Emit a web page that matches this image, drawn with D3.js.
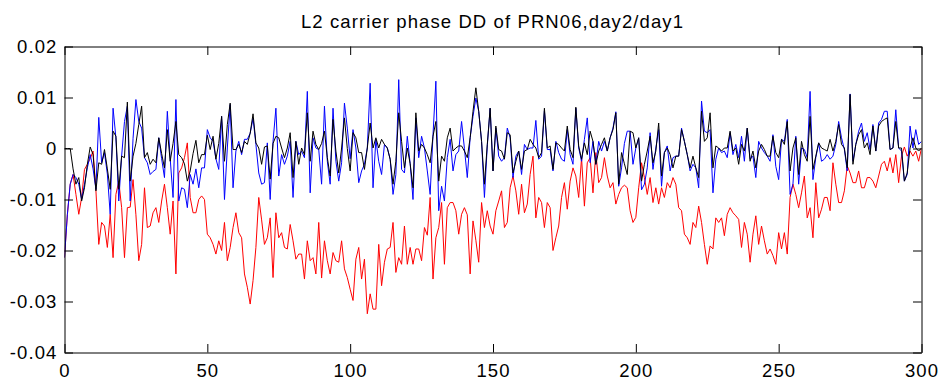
<!DOCTYPE html>
<html><head><meta charset="utf-8">
<script src="https://cdn.jsdelivr.net/npm/d3@7"></script>
<style>html,body{margin:0;padding:0;background:#fff;} svg{display:block}</style>
</head><body>
<svg id="chart" width="945" height="385"></svg>
<script>
const title = "L2 carrier phase DD of PRN06,day2/day1";
const xTicks = [0, 50, 100, 150, 200, 250, 300];
const yTicks = [-0.04, -0.03, -0.02, -0.01, 0, 0.01, 0.02];
const yTickLabels = ["-0.04", "-0.03", "-0.02", "-0.01", "0", "0.01", "0.02"];
const valueUnit = 1e-3; // series values below are in units of 0.001, sample index 0..300

const redSeries = [
-21.4,-13.0,-7.0,-5.1,-9.0,-12.9,-9.6,-4.1,-3.1,-2.0,
-0.5,-8.3,-18.8,-14.5,-15.2,-19.4,-12.9,-21.4,-9.0,-6.4,
-11.6,-21.4,-11.6,-11.5,-6.1,-13.0,-22.0,-18.8,-7.7,-15.5,
-15.2,-12.6,-11.6,-14.5,-10.3,-7.0,-11.6,-16.8,-10.3,-24.6,
-4.8,-3.8,-1.8,1.1,-9.6,-12.6,-12.6,-10.0,-9.3,-10.0,
-16.8,-17.5,-18.8,-20.7,-18.1,-20.0,-14.5,-22.0,-19.4,-15.5,
-12.6,-16.5,-17.5,-24.6,-27.2,-30.5,-25.9,-19.4,-9.6,-14.0,
-18.8,-17.5,-13.6,-25.3,-12.6,-17.5,-16.5,-19.4,-19.7,-14.9,
-18.1,-21.7,-20.7,-20.7,-25.6,-18.1,-22.0,-21.4,-24.6,-14.5,
-25.4,-18.1,-22.0,-24.6,-20.4,-22.0,-22.3,-18.1,-23.6,-25.3,
-27.6,-29.8,-21.7,-19.4,-25.6,-21.7,-32.4,-28.5,-31.5,-31.5,
-18.8,-26.9,-22.3,-19.7,-19.4,-14.5,-24.3,-21.4,-22.7,-15.2,
-22.7,-19.4,-22.7,-19.7,-19.7,-22.0,-15.5,-17.0,-9.6,-25.6,
-17.5,-15.5,-10.6,-22.7,-11.6,-10.6,-10.6,-12.2,-16.8,-12.9,
-11.6,-13.0,-24.6,-14.2,-18.0,-22.3,-10.6,-15.5,-12.2,-15.2,
-16.8,-12.2,-10.3,-8.3,-15.5,-14.5,-7.7,-5.4,-8.3,-12.9,
-7.0,-12.6,-10.9,-5.1,-1.5,-13.6,-9.6,-10.6,-15.5,-10.6,
-11.6,-20.0,-17.5,-15.2,-9.6,-6.7,-11.9,-6.4,-3.8,-5.4,
-9.6,-1.8,-11.3,-2.8,-1.8,-8.7,-0.8,-6.7,-5.7,-1.8,
-5.4,-7.7,-6.7,-10.9,-9.0,-7.7,-7.2,-7.7,-12.2,-14.5,
-13.5,-7.7,-2.8,-5.7,-9.0,-5.7,-10.6,-7.7,-10.9,-7.7,
-9.6,-6.7,-7.7,-5.7,-7.0,-11.6,-12.2,-16.8,-17.5,-18.8,
-14.5,-15.5,-11.3,-14.5,-18.8,-22.7,-19.1,-19.7,-13.6,-14.5,
-13.6,-17.1,-12.9,-11.6,-12.6,-13.2,-13.9,-19.4,-14.5,-16.8,
-22.3,-16.8,-13.2,-18.8,-15.2,-18.1,-20.7,-19.7,-21.0,-22.7,
-16.5,-19.7,-16.5,-20.7,-9.6,-7.0,-9.0,-11.6,-8.7,-5.4,
-13.6,-11.6,-17.5,-6.7,-13.6,-11.9,-9.6,-9.6,-12.2,-2.8,
-7.0,-10.6,-10.6,-8.3,-3.4,-4.8,-6.7,-6.7,-4.4,-7.7,
-7.7,-5.7,-5.7,-6.4,-7.7,-5.4,-3.1,-2.5,-4.4,-1.8,
-4.8,-1.2,-6.7,-1.5,0.3,-1.5,-0.5,-1.5,-0.5,-2.5,0.1
];

const blueSeries = [
-21.4,-13.0,-7.0,-5.1,-5.7,-7.0,-10.0,-7.0,-3.8,-1.2,
-4.0,-8.0,6.1,-2.8,-0.8,-5.0,-12.9,7.9,2.1,-10.3,
-1.5,5.3,8.3,-10.3,2.0,9.6,5.3,4.0,-1.8,-2.8,
-5.1,-4.5,-4.1,2.1,-2.0,-5.7,7.3,-2.0,-9.6,9.6,
-10.3,-7.7,-8.0,-11.6,-5.1,-7.0,-4.0,-7.7,-3.8,-3.8,
3.7,2.1,1.4,-2.0,-4.1,6.3,-10.0,0.1,8.6,-7.7,
-0.5,1.4,-1.2,1.8,1.8,3.0,5.9,0.8,-4.8,-7.0,
-6.7,1.1,-10.0,1.4,7.9,-5.4,-1.2,-3.1,-1.5,1.4,
-9.6,1.4,-1.2,-0.5,-1.8,11.2,-8.7,2.1,0.1,-0.2,
-7.0,8.3,-2.5,-7.0,7.9,-2.5,-6.4,-2.8,8.9,4.0,
-2.0,3.7,0.1,-6.7,-4.4,-3.1,0.1,12.8,-7.7,1.8,
-2.5,-5.1,0.8,0.1,-2.1,-9.0,-5.1,13.5,-4.1,-4.8,
2.4,-3.0,-10.0,6.0,-1.8,2.4,0.1,-4.4,-9.0,2.7,
13.2,-12.2,-7.4,-10.3,-1.8,1.8,-4.4,-1.2,-0.5,5.3,
0.0,-5.7,2.1,6.3,9.9,7.3,1.4,-9.6,0.5,7.9,
-4.4,4.0,-1.5,-2.5,-1.8,4.0,2.1,-5.7,-1.5,-0.5,
-5.1,0.8,-0.2,0.1,0.1,5.5,-2.1,-1.5,7.4,-0.2,
-0.2,-4.4,1.4,-0.8,-2.1,-2.5,3.7,-1.2,-3.1,7.9,
0.1,-2.5,1.8,6.0,-2.8,1.4,-3.1,1.4,-0.5,1.4,
-0.5,2.1,4.0,7.2,-7.4,-3.8,1.0,3.4,3.4,-3.1,
0.1,2.1,-8.1,-7.0,-3.8,3.1,-4.1,0.1,3.7,-7.4,
-0.8,0.5,-4.4,-1.8,-1.5,-1.5,4.0,1.4,-1.2,-4.4,
-3.1,-3.8,-7.7,9.3,3.4,3.1,3.7,-8.7,-2.1,0.1,
-0.8,-0.5,-1.8,3.1,-1.2,0.8,-1.8,2.4,-2.5,4.0,
-2.1,-1.5,-5.7,1.4,0.1,-0.8,-1.5,-2.5,2.7,-3.5,
-6.1,1.8,1.4,5.7,-9.0,-7.0,2.4,-7.0,0.1,-0.2,
-1.8,11.2,-6.1,-1.8,1.1,-2.5,-2.1,-1.2,-2.1,-1.5,
0.8,5.3,2.1,-0.2,-4.4,10.7,-2.5,0.8,3.4,5.0,
1.4,3.1,-0.2,4.7,-0.5,5.0,5.7,7.3,7.3,-0.2,
0.1,7.6,0.1,-0.5,-6.4,-5.1,4.4,0.1,3.7,0.8,1.4
];

const blackSeries = [
0.0,0.0,0.0,-4.0,-7.0,-5.7,-10.3,-7.7,-3.1,0.3,
-1.2,-8.3,-2.8,-3.1,-0.2,-4.0,-8.0,3.4,2.4,-8.0,
-1.5,-1.8,9.1,-6.4,-1.5,1.0,4.7,8.3,-1.8,-0.8,
-3.1,-2.1,-2.8,2.1,-1.0,-3.8,3.7,-2.5,1.0,5.3,
-1.2,-1.8,-3.0,-6.4,-4.4,-1.0,1.6,-2.8,-1.2,-1.2,
2.6,-0.2,2.4,-2.1,1.0,6.3,-2.5,4.7,8.9,-0.2,
-0.2,0.8,-0.8,1.4,0.8,3.0,6.8,1.1,0.1,-3.1,
0.3,0.5,-6.0,1.0,2.4,2.1,0.1,-1.8,0.1,3.1,
-5.7,1.4,-3.1,0.1,-1.2,7.0,-2.5,3.4,0.8,-0.2,
1.0,3.4,-1.8,-5.4,5.7,-0.5,-4.8,0.1,6.0,0.0,
-4.4,3.1,2.1,-0.8,-0.8,-4.1,0.1,5.0,0.1,2.1,
0.1,1.8,0.8,0.1,-2.1,-7.0,-2.5,7.0,1.4,-3.8,
0.1,-3.0,-7.7,7.0,-0.5,0.8,0.1,-1.2,-2.8,2.4,
5.3,-6.4,-1.5,-2.5,2.1,4.0,-0.5,0.1,0.5,0.5,
-0.5,-1.8,2.1,7.3,11.9,7.3,1.4,-7.0,0.8,7.9,
-4.4,4.4,-0.2,-0.5,-2.1,3.1,2.7,-4.8,-2.5,-0.5,
-4.1,-0.5,-0.2,1.8,0.8,0.1,-1.8,-0.8,7.9,0.1,
0.5,-4.1,1.1,0.8,0.1,-0.5,4.4,-0.2,-1.8,8.1,
0.5,-2.1,1.1,-1.2,3.4,1.4,-3.1,-0.5,0.8,2.1,
-0.5,2.1,3.7,7.0,-7.0,-0.8,-3.0,-5.1,3.4,3.1,
0.1,2.1,-6.4,-3.1,-0.5,2.4,-2.8,-0.5,5.0,-5.4,
-0.8,0.1,-1.2,-3.8,-1.5,-1.5,3.7,1.4,-1.2,-3.8,
-1.5,-3.8,-5.7,7.3,1.4,2.1,7.0,-3.8,0.5,0.1,
-0.5,0.1,0.1,3.4,-0.5,0.1,-3.1,0.8,-0.5,4.0,
-2.5,-0.5,-3.8,-0.5,0.8,-0.2,-1.5,-1.5,2.4,-0.8,
-1.8,1.8,0.8,5.3,-4.4,0.1,2.1,-5.1,1.4,-1.2,
-2.5,6.3,-4.1,-1.5,1.1,0.1,-0.2,-0.5,1.8,-0.5,
1.4,4.7,0.8,0.1,-3.8,10.6,-3.1,0.8,2.7,3.7,
0.1,1.1,-1.2,4.4,-0.5,4.4,5.3,5.7,6.0,-0.2,
0.1,5.3,0.1,0.1,-6.4,-4.8,0.1,2.1,0.1,-0.5,0.1
];

const seriesList = [
  {values: redSeries, color: "#ff0000"},
  {values: blueSeries, color: "#0000ff"},
  {values: blackSeries, color: "#000000"}
];

const svg = d3.select("#chart");
const font = "'Liberation Sans', Arial, Helvetica, sans-serif";
const fontSize = 18.5;
const letterSp = 1.1;

const x = d3.scaleLinear().domain([0, 300]).range([64.5, 921.5]);
const y = d3.scaleLinear().domain([-0.04, 0.02]).range([352.5, 46.5]);

svg.append("rect").attr("width", 945).attr("height", 385).attr("fill", "#fff");

// lines (clipped to plot area)
svg.append("clipPath").attr("id", "clip").append("rect")
  .attr("x", 64.5).attr("y", 46.5).attr("width", 857).attr("height", 306);

const line = d3.line().x((d, i) => x(i)).y(d => y(d * valueUnit));
const g = svg.append("g").attr("clip-path", "url(#clip)");
seriesList.forEach(s => {
  g.append("path").datum(s.values)
    .attr("fill", "none").attr("stroke", s.color).attr("stroke-width", 1)
    .attr("stroke-linejoin", "miter").attr("d", line);
});

const tickLen = 8.5;
function styleAxis(sel) {
  sel.selectAll("path.domain").attr("stroke", "#000").attr("stroke-width", 1);
  sel.selectAll(".tick line").attr("stroke", "#000").attr("stroke-width", 1);
  sel.selectAll("text").attr("fill", "#000")
    .style("font-family", font).style("font-size", fontSize + "px")
    .style("letter-spacing", letterSp + "px");
}

svg.append("g").attr("transform", "translate(0,352.5)")
  .call(d3.axisBottom(x).tickValues(xTicks).tickSizeInner(-tickLen).tickSizeOuter(0).tickPadding(11.6).tickFormat(d3.format("d")))
  .call(styleAxis).attr("font-family", null).attr("font-size", null);

svg.append("g").attr("transform", "translate(0,46.5)")
  .call(d3.axisTop(x).tickValues(xTicks).tickSizeInner(-tickLen).tickSizeOuter(0).tickFormat(""))
  .call(styleAxis);

svg.append("g").attr("transform", "translate(64.5,0)")
  .call(d3.axisLeft(y).tickValues(yTicks).tickSizeInner(-tickLen).tickSizeOuter(0).tickPadding(7)
    .tickFormat((d, i) => yTickLabels[i]))
  .call(styleAxis).attr("font-family", null).attr("font-size", null);

svg.append("g").attr("transform", "translate(921.5,0)")
  .call(d3.axisRight(y).tickValues(yTicks).tickSizeInner(-tickLen).tickSizeOuter(0).tickFormat(""))
  .call(styleAxis);

svg.append("text").attr("x", 492.5).attr("y", 28.3).attr("text-anchor", "middle")
  .style("font-family", font).style("font-size", fontSize + "px")
  .style("letter-spacing", letterSp + "px").attr("fill", "#000").text(title);
</script>
</body></html>
